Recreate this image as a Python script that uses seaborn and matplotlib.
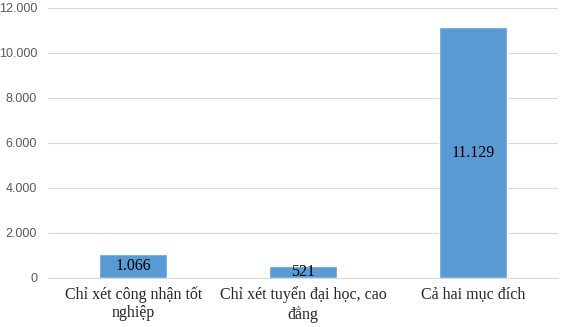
import matplotlib
matplotlib.use("Agg")
import matplotlib.pyplot as plt
import seaborn as sns
import pandas as pd
from matplotlib.ticker import FuncFormatter

categories = ["Chỉ xét công nhận tốt\nnghiệp", "Chỉ xét tuyển đại học, cao\nđẳng", "Cả hai mục đích"]
values = [1066, 521, 11129]
yticks = [0, 2000, 4000, 6000, 8000, 10000, 12000]

def dot_fmt(v, pos=None):
    return f"{int(v):,}".replace(",", ".")

sns.set_style("white")
df = pd.DataFrame({"cat": categories, "val": values})

fig = plt.figure(figsize=(5.67, 3.27), dpi=100)
ax = fig.add_axes([0.085, 0.15, 0.899, 0.826])
sns.barplot(data=df, x="cat", y="val", color="#5b9bd5", width=0.4, saturation=1, ax=ax)

ax.set_ylim(0, 12000)
ax.set_yticks(yticks)
ax.yaxis.set_major_formatter(FuncFormatter(dot_fmt))
ax.grid(axis="y", color="#d9d9d9", linewidth=0.8)
ax.set_axisbelow(True)
for s in ["top", "right", "left"]:
    ax.spines[s].set_visible(False)
ax.spines["bottom"].set_color("#d9d9d9")
ax.set_xlabel("")
ax.set_ylabel("")
ax.tick_params(axis="y", length=0, labelsize=9, labelcolor="#595959", pad=8)
ax.tick_params(axis="x", length=0, pad=6)
for lbl in ax.get_yticklabels():
    lbl.set_family("Liberation Sans")
for lbl in ax.get_xticklabels():
    lbl.set_family("Liberation Serif")
    lbl.set_fontsize(11.5)
    lbl.set_linespacing(1.2)

for i, v in enumerate(values):
    ax.text(i, v / 2, dot_fmt(v), ha="center", va="center",
            family="Liberation Serif", fontsize=11.5, color="black")

fig.savefig("out.png", dpi=100)
